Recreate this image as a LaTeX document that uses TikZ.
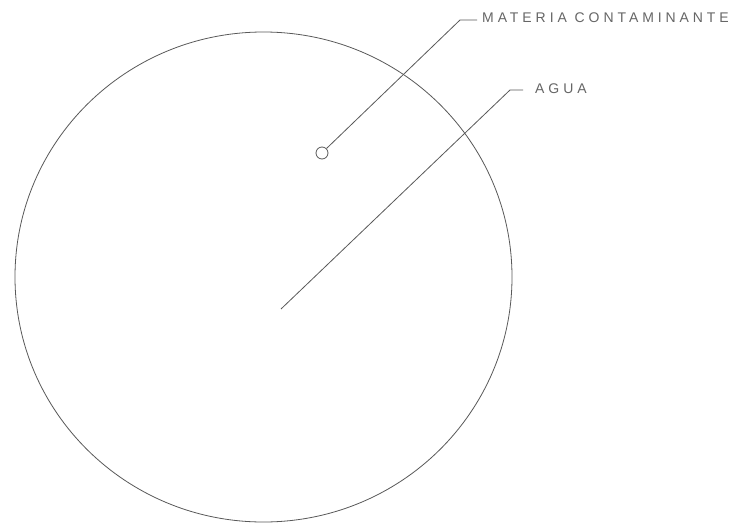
\documentclass[tikz,border=0pt]{standalone}
\usepackage{fontspec}
\setmainfont{Liberation Sans}[LetterSpace=28]
\begin{document}
\begin{tikzpicture}[x=1pt,y=-1pt,
  ln/.style={draw=black!65, line width=0.8pt},
  lbl/.style={anchor=west, inner sep=0pt, text=black!60, font=\fontsize{14}{14}\selectfont}]
\useasboundingbox (0,0) rectangle (741,527);
\fill[white] (0,0) rectangle (741,527);
\draw[ln] (263.5,277) ellipse [x radius=248.5, y radius=245];
\node[ln, circle, minimum size=12pt, inner sep=0pt] (mc) at (322,153) {};
\coordinate (mb) at (460,20);
\coordinate (me) at (477,20);
\node[lbl] (mt) at (482,18) {MATERIA CONTAMINANTE};
\draw[ln] (mc.45) -- (mb) -- (me);
\coordinate (as) at (281,309);
\coordinate (ab) at (510,90);
\coordinate (ae) at (523,90);
\node[lbl] (at) at (535,89) {AGUA};
\draw[ln] (as) -- (ab) -- (ae);
\end{tikzpicture}
\end{document}
